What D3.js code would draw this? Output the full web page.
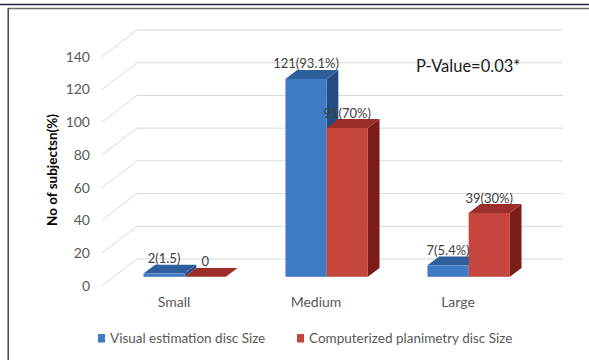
<!DOCTYPE html>
<html><head><meta charset="utf-8">
<script src="https://cdn.jsdelivr.net/npm/d3@7"></script>
<style>body{margin:0;background:#fff}svg{display:block}</style>
</head><body>
<svg id="c" width="589" height="360"></svg>
<script>
const categories = ["Small", "Medium", "Large"];
const seriesNames = ["Visual estimation disc Size", "Computerized planimetry disc Size"];
const visualValues = [2, 121, 7];
const planimetryValues = [0, 91, 39];
const visualLabels = ["2(1.5)", "121(93.1%)", "7(5.4%)"];
const planimetryLabels = ["0", "91(70%)", "39(30%)"];
const yTicks = [0, 20, 40, 60, 80, 100, 120, 140];
const yTitle = "No of subjectsn(%)";
const annotation = "P-Value=0.03*";

const svg = d3.select("#c");
const FONT = "Lato, 'Open Sans', sans-serif";

// frame lines
svg.append("line").attr("x1",0).attr("x2",589).attr("y1",4.5).attr("y2",4.5).attr("stroke","#23234d").attr("stroke-width",1.6);
svg.append("line").attr("x1",8).attr("x2",589).attr("y1",8.5).attr("y2",8.5).attr("stroke","#6b6b6b").attr("stroke-width",1.5);
svg.append("line").attr("x1",8.2).attr("x2",8.2).attr("y1",8).attr("y2",360).attr("stroke","#444").attr("stroke-width",1.5);

// 3D geometry
const DX = 35, DY = -26.7;
const frontLeft = 102, frontRight = 528;
const y = d3.scaleLinear().domain([0,140]).range([285.7, 56.7]); // front plane
const x = d3.scaleBand().domain(categories).range([frontLeft, frontRight]).paddingInner(0.42).paddingOuter(0.21);
const xs = d3.scaleBand().domain(seriesNames).range([0, x.bandwidth()]);
const P = (px, v, f) => [px + DX*f, y(v) + DY*f];

// gridlines: back wall + left side wall
const grid = svg.append("g").attr("stroke","#d9d9d9").attr("stroke-width",1).attr("fill","none");
yTicks.forEach(t => {
  const a = P(frontLeft, t, 0), b = P(frontLeft, t, 1), c = P(frontRight, t, 1);
  grid.append("polyline").attr("points", [a,b,c].map(p=>p.join(",")).join(" "));
});

// y axis labels
const yAxis = d3.axisLeft(y).tickValues(yTicks).tickSize(0).tickPadding(0);
const ya = svg.append("g").attr("transform","translate(90,0)").call(yAxis);
ya.select(".domain").remove();
ya.selectAll("text").attr("font-family",FONT).attr("font-size",14).attr("fill","#595959");

// y title
svg.append("text").attr("transform","translate(57,170) rotate(-90)").attr("text-anchor","middle")
  .attr("font-family",FONT).attr("font-size",13.5).attr("font-weight","bold").attr("fill","#000").text(yTitle);

// x axis labels
const xAxis = d3.axisBottom(x).tickSize(0).tickPadding(0);
const xa = svg.append("g").attr("transform","translate(1,297)").call(xAxis);
xa.select(".domain").remove();
xa.selectAll("text").attr("font-family",FONT).attr("font-size",14).attr("fill","#595959");

// bars
const colors = [
  {front:"#3f7ac4", top:"#2e5f9c", side:"#234d82"},
  {front:"#c4463f", top:"#9b2e29", side:"#7a1c18"}
];
const data = [];
categories.forEach((c,i) => {
  data.push({c, s:0, v:visualValues[i], label:visualLabels[i]});
  data.push({c, s:1, v:planimetryValues[i], label:planimetryLabels[i]});
});
const f0 = 1/3, f1 = 2/3;
const bars = svg.append("g");
data.forEach(d => {
  const x0 = x(d.c) + xs(seriesNames[d.s]), x1 = x0 + xs.bandwidth();
  const col = colors[d.s];
  const poly = pts => pts.map(p=>p.join(",")).join(" ");
  bars.append("polygon").attr("points", poly([P(x1,0,f0),P(x1,0,f1),P(x1,d.v,f1),P(x1,d.v,f0)])).attr("fill",col.side);
  bars.append("polygon").attr("points", poly([P(x0,d.v,f0),P(x1,d.v,f0),P(x1,d.v,f1),P(x0,d.v,f1)])).attr("fill",col.top);
  const a = P(x0,d.v,f0), b = P(x1,0,f0);
  bars.append("rect").attr("x",a[0]).attr("y",a[1]).attr("width",b[0]-a[0]).attr("height",Math.max(0,b[1]-a[1])).attr("fill",col.front);
});

// data labels: centred on the front face, above the top face
data.forEach(d => {
  const x0 = x(d.c) + xs(seriesNames[d.s]), x1 = x0 + xs.bandwidth();
  const cx = P((x0+x1)/2, d.v, f0)[0];
  const ty = P(x0, d.v, f1)[1];
  svg.append("text").attr("x",cx).attr("y",ty-1.5).attr("text-anchor","middle")
    .attr("font-family",FONT).attr("font-size",13).attr("fill","#404040").text(d.label);
});

// annotation
svg.append("text").attr("x",416).attr("y",72).attr("font-family",FONT).attr("font-size",16.5).attr("fill","#1a1a1a").text(annotation);

// legend
const leg = svg.append("g").attr("font-family",FONT).attr("font-size",13.5).attr("fill","#595959");
const legX = [98, 297];
seriesNames.forEach((s,i) => {
  leg.append("rect").attr("x",legX[i]).attr("y",334).attr("width",7).attr("height",8.5).attr("fill",colors[i].front);
  leg.append("text").attr("x",legX[i]+12).attr("y",343).text(s);
});
</script>
</body></html>
